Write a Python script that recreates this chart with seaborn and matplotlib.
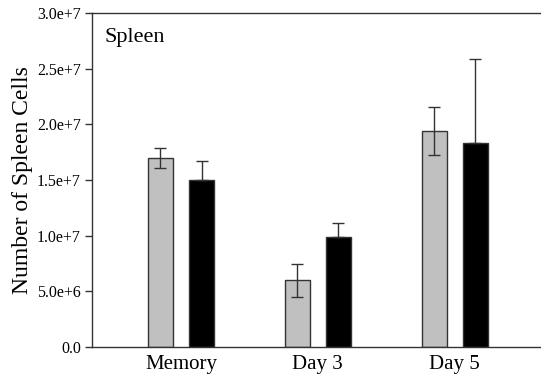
import matplotlib
matplotlib.use("Agg")
import matplotlib.pyplot as plt
import seaborn as sns
import pandas as pd
import numpy as np

categories = ["Memory", "Day 3", "Day 5"]
groups = ["A", "B"]
values_a = [1.70e7, 0.60e7, 1.94e7]
values_b = [1.50e7, 0.99e7, 1.83e7]
err_a = [0.09e7, 0.15e7, 0.215e7]
err_b = [0.175e7, 0.12e7, 0.76e7]
yticks = [0, 5e6, 1e7, 1.5e7, 2e7, 2.5e7, 3e7]
ytick_labels = ["0.0", "5.0e+6", "1.0e+7", "1.5e+7", "2.0e+7", "2.5e+7", "3.0e+7"]

sns.set_theme(style="white")
plt.rcParams["font.family"] = ["Liberation Serif", "DejaVu Serif"]
plt.rcParams["text.color"] = "black"
plt.rcParams["axes.labelcolor"] = "black"
plt.rcParams["xtick.color"] = "black"
plt.rcParams["ytick.color"] = "black"

df = pd.DataFrame({
    "cat": categories * 2,
    "grp": [groups[0]] * 3 + [groups[1]] * 3,
    "val": values_a + values_b,
})

fig = plt.figure(figsize=(5.41, 3.80), dpi=100)
ax = fig.add_axes([92 / 541, 1 - 347 / 380, 1 - 92 / 541, (347 - 13) / 380])

sns.barplot(data=df, x="cat", y="val", hue="grp", order=categories,
            hue_order=groups, palette=["#c0c0c0", "#000000"],
            width=0.6, gap=0.4, edgecolor="#333333", linewidth=1.0,
            errorbar=None, legend=False, ax=ax)

# error bars placed at the bars drawn by seaborn
errs = err_a + err_b
vals = values_a + values_b
bars = [p for p in ax.patches]
for i, (p, v, e) in enumerate(zip(bars, vals, errs)):
    cx = p.get_x() + p.get_width() / 2
    lower = e if i < 3 else 0.0
    ax.errorbar(cx, v, yerr=[[lower], [e]], fmt="none", ecolor="#333333",
                elinewidth=1.0, capsize=4.5, capthick=1.0, zorder=3)

ax.set_ylim(0, 3e7)
ax.set_xlim(-0.65, 2.63)
ax.set_yticks(yticks)
ax.set_yticklabels(ytick_labels, fontsize=11.5)
ax.tick_params(axis="y", direction="out", length=5, width=1, color="#333333", pad=3, left=True)
ax.tick_params(axis="x", length=0, labelsize=15, pad=6)
ax.set_xlabel("")
ax.set_ylabel("Number of Spleen Cells", fontsize=17, labelpad=3)

for s in ["left", "top", "bottom"]:
    ax.spines[s].set_visible(True)
    ax.spines[s].set_color("#333333")
    ax.spines[s].set_linewidth(1.0)
ax.spines["right"].set_visible(False)

ax.text(0.028, 0.955, "Spleen", transform=ax.transAxes, fontsize=16,
        va="top", ha="left")

fig.savefig("out.png", dpi=100)
